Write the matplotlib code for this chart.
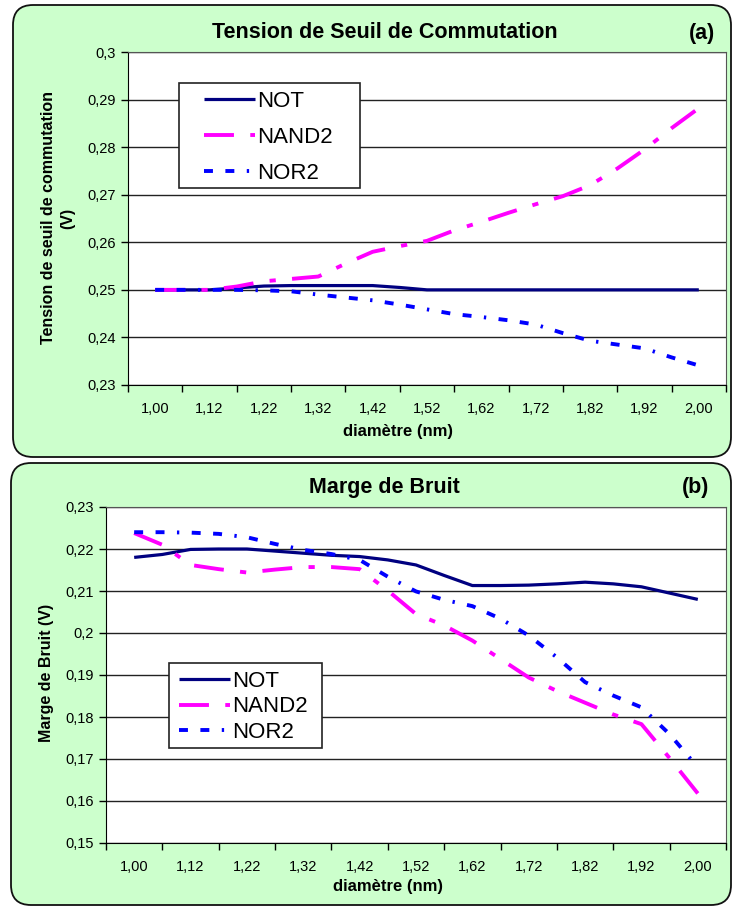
import matplotlib
matplotlib.use("Agg")
import matplotlib.pyplot as plt
from matplotlib.patches import FancyBboxPatch, Rectangle
from matplotlib.ticker import FuncFormatter, FixedLocator

W, H = 733, 908

# x axis categories (diameter, nm) and data positions in category units
diam_labels = ["1,00", "1,12", "1,22", "1,32", "1,42", "1,52", "1,62", "1,72", "1,82", "1,92", "2,00"]
x_pos = [0, 0.5, 1, 1.5, 2, 2.5, 3, 3.5, 4, 4.5, 5, 5.5, 6, 6.5, 7, 7.5, 8, 8.5, 9, 9.5, 10]

# (a) Tension de seuil de commutation (V)
seuil_not = [0.25, 0.25, 0.25, 0.2504, 0.2508, 0.2509, 0.2509, 0.2509, 0.2509, 0.2505, 0.25,
             0.25, 0.25, 0.25, 0.25, 0.25, 0.25, 0.25, 0.25, 0.25, 0.25]
seuil_nand2 = [0.25, 0.25, 0.25, 0.2507, 0.2518, 0.2523, 0.2528, 0.2555, 0.258, 0.2592, 0.2603,
               0.2625, 0.2643, 0.2662, 0.268, 0.2697, 0.272, 0.2755, 0.2795, 0.284, 0.2882]
seuil_nor2 = [0.25, 0.25, 0.25, 0.25, 0.2499, 0.2497, 0.249, 0.2484, 0.2478, 0.2469, 0.2459,
              0.2449, 0.2443, 0.2436, 0.2427, 0.2409, 0.2393, 0.2385, 0.2377, 0.2358, 0.2341]

# (b) Marge de bruit (V)
marge_not = [0.218, 0.2187, 0.2199, 0.22, 0.22, 0.2195, 0.219, 0.2185, 0.2182, 0.2174, 0.2162,
             0.2137, 0.2113, 0.2113, 0.2114, 0.2117, 0.2121, 0.2117, 0.211, 0.2095, 0.208]
marge_nand2 = [0.2238, 0.221, 0.2162, 0.2152, 0.2144, 0.2151, 0.2157, 0.2157, 0.2152, 0.2101, 0.2045,
               0.2018, 0.1982, 0.1938, 0.1894, 0.1862, 0.1834, 0.1806, 0.1783, 0.1702, 0.1618]
marge_nor2 = [0.224, 0.224, 0.2239, 0.2236, 0.2228, 0.2212, 0.2198, 0.2188, 0.2174, 0.2134, 0.2099,
              0.2079, 0.2064, 0.2034, 0.1994, 0.1942, 0.1883, 0.1851, 0.1823, 0.1759, 0.168]

series_names = ["NOT", "NAND2", "NOR2"]

plt.rcParams['font.family'] = ['Liberation Sans', 'DejaVu Sans']

GREEN = "#CCFFCC"
colors = {"NOT": "#000080", "NAND2": "#FF00FF", "NOR2": "#0000FF"}
widths = {"NOT": 2.3, "NAND2": 2.8, "NOR2": 2.8}
dashes = {"NOT": None, "NAND2": (7.7, 4.2, 1.6, 4.2), "NOR2": (2.3, 3.2, 2.3, 3.2, 0.6, 3.2)}


def fx(x):
    return x / W


def fy(y):
    return 1 - y / H


def comma_fmt(v, pos):
    s = f"{v:.2f}".rstrip("0").rstrip(".")
    return s.replace(".", ",")


fig = plt.figure(figsize=(W / 100, H / 100), dpi=100)
fig.patch.set_facecolor("white")

# rounded green panels (inch coordinates so corners stay round)
for (x0, y0, x1, y1) in [(13, 5, 731, 457), (11, 463, 731, 905)]:
    box = FancyBboxPatch((x0 / 100, (H - y1) / 100), (x1 - x0) / 100, (y1 - y0) / 100,
                         boxstyle="round,pad=0,rounding_size=0.2",
                         transform=fig.dpi_scale_trans, facecolor=GREEN,
                         edgecolor="#111111", linewidth=1.3, zorder=0)
    fig.add_artist(box)


def make_panel(rect, ylim, yticks, data, title, tag, title_xy, tag_xy, ylabel, ylabel_xy,
               xlabel_xy, leg_anchor, leg_box, leg_spacing):
    l, t, r, b = rect
    ax = fig.add_axes([fx(l), fy(b), fx(r - l), (b - t) / H])
    ax.set_facecolor("white")
    for name, vals in zip(series_names, data):
        line, = ax.plot(x_pos, vals, color=colors[name], lw=widths[name], label=name,
                        solid_capstyle="butt", dash_capstyle="butt", zorder=3)
        if dashes[name] is not None:
            line.set_dashes(dashes[name])
    ax.set_xlim(-0.5, 10.5)
    ax.set_ylim(*ylim)
    ax.set_yticks(yticks)
    ax.yaxis.set_major_formatter(FuncFormatter(comma_fmt))
    ax.set_xticks(range(len(diam_labels)))
    ax.set_xticklabels(diam_labels)
    ax.xaxis.set_minor_locator(FixedLocator([i - 0.5 for i in range(len(diam_labels) + 1)]))
    ax.tick_params(axis="x", which="major", length=0, pad=12, labelsize=10.5)
    ax.tick_params(axis="x", which="minor", length=5, width=1, direction="out")
    ax.tick_params(axis="y", length=5, width=1, direction="out", pad=4, labelsize=10.5)
    ax.grid(axis="y", color="#222222", lw=1, zorder=1)
    for side in ["top", "right"]:
        ax.spines[side].set_color("#555555")
    for side in ["left", "bottom"]:
        ax.spines[side].set_color("black")

    fig.text(fx(title_xy[0]), fy(title_xy[1]), title, ha="center", va="center",
             fontsize=15.5, fontweight="bold")
    fig.text(fx(tag_xy[0]), fy(tag_xy[1]), tag, ha="center", va="center",
             fontsize=15.5, fontweight="bold")
    fig.text(fx(ylabel_xy[0]), fy(ylabel_xy[1]), ylabel, ha="center", va="center",
             rotation=90, fontsize=11.5, fontweight="bold", multialignment="center",
             linespacing=1.35)
    fig.text(fx(xlabel_xy[0]), fy(xlabel_xy[1]), "diamètre (nm)", ha="center", va="center",
             fontsize=12, fontweight="bold")

    # legend frame drawn by hand, entries from the axes handles
    bx0, by0, bx1, by1 = leg_box
    ax.add_patch(Rectangle((fx(bx0), fy(by1)), fx(bx1 - bx0), (by1 - by0) / H,
                           transform=fig.transFigure, facecolor="white", clip_on=False,
                           edgecolor="#222222", lw=1.2, zorder=4))
    leg = ax.legend(loc="upper left", bbox_to_anchor=(fx(leg_anchor[0]), fy(leg_anchor[1])),
                    bbox_transform=fig.transFigure, frameon=False, fontsize=16,
                    handlelength=2.3, handletextpad=0.1, borderpad=0, borderaxespad=0,
                    labelspacing=leg_spacing)
    leg.set_zorder(5)
    return ax


make_panel((128, 52, 726, 385), (0.23, 0.30),
           [0.23, 0.24, 0.25, 0.26, 0.27, 0.28, 0.29, 0.30],
           [seuil_not, seuil_nand2, seuil_nor2],
           "Tension de Seuil de Commutation", "(a)", (385, 33), (702, 33),
           "Tension de seuil de commutation\n(V)", (58, 218), (398, 432),
           (204, 91), (179, 83, 360, 188), 0.68)

make_panel((106, 507, 726, 843), (0.15, 0.23),
           [0.15, 0.16, 0.17, 0.18, 0.19, 0.20, 0.21, 0.22, 0.23],
           [marge_not, marge_nand2, marge_nor2],
           "Marge de Bruit", "(b)", (384, 488), (696, 488),
           "Marge de Bruit (V)", (47, 673), (388, 887),
           (179, 671), (169, 663, 322, 748), 0.2)

fig.savefig("out.png", dpi=100)
